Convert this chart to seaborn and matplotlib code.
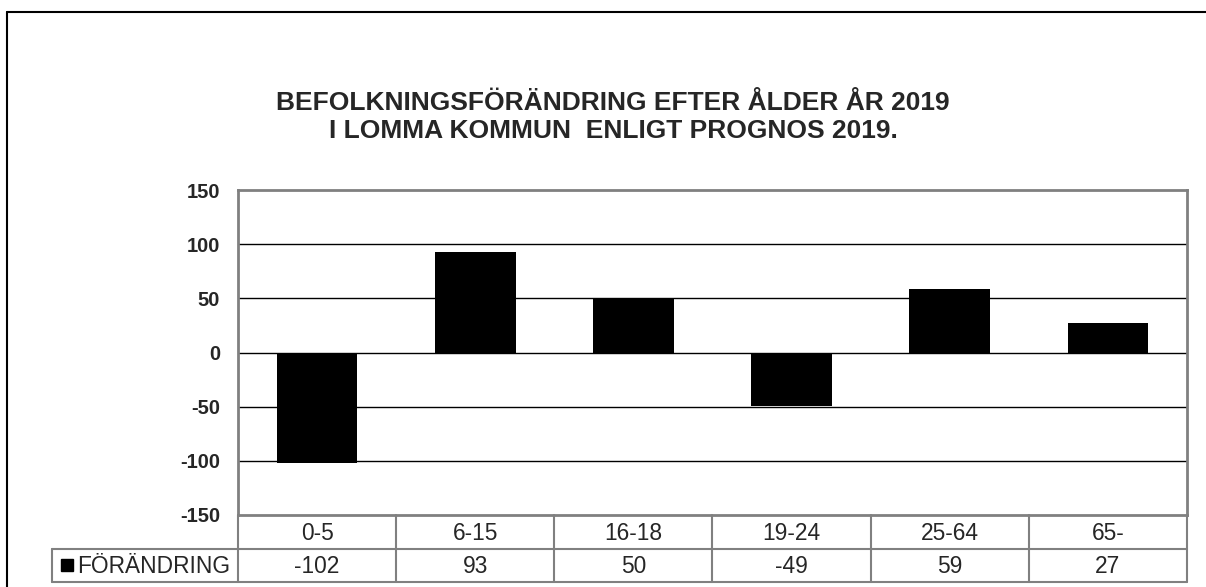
import matplotlib
matplotlib.use("Agg")
import matplotlib.pyplot as plt
import seaborn as sns
import pandas as pd
from matplotlib.lines import Line2D
from matplotlib.patches import Rectangle

# data
age_groups = ["0-5", "6-15", "16-18", "19-24", "25-64", "65-"]
change = [-102, 93, 50, -49, 59, 27]
series_name = "FÖRÄNDRING"
title = "BEFOLKNINGSFÖRÄNDRING EFTER ÅLDER ÅR 2019\nI LOMMA KOMMUN  ENLIGT PROGNOS 2019."
yticks = [-150, -100, -50, 0, 50, 100, 150]

sns.set_style("white")
plt.rcParams["font.family"] = ["Liberation Sans", "DejaVu Sans"]

W, H = 1206, 587
fig = plt.figure(figsize=(W / 100, H / 100), dpi=100)


def px(x, y):
    # pixel position (from top-left) -> figure fraction
    return x / W, 1 - y / H


# plot area in pixels
left, top, right, bottom = 238, 190, 1187, 515
ax = fig.add_axes([left / W, 1 - bottom / H, (right - left) / W, (bottom - top) / H])

df = pd.DataFrame({"age": age_groups, "change": change})
sns.barplot(data=df, x="age", y="change", color="black", width=0.51,
            saturation=1, linewidth=0, ax=ax, zorder=3)
ax.set_ylim(-150, 150)
ax.set_xlim(-0.5, len(age_groups) - 0.5)
ax.set_yticks(yticks)
ax.set_yticklabels([str(t) for t in yticks], fontsize=14.5, fontweight="bold")
ax.tick_params(axis="y", length=0, pad=13)
ax.set_xticks([])
ax.set_xlabel("")
ax.set_ylabel("")
for t in yticks[1:-1]:
    ax.axhline(t, color="black", lw=1, zorder=1)
for s in ax.spines.values():
    s.set_color("#808080")
    s.set_linewidth(2)

# data table below the plot
tbl_top, tbl_mid, tbl_bot, tbl_left = 515, 549, 582, 52
gray = "#808080"
cell_w = (right - left) / len(age_groups)
fs_tbl = 16.4


def hline(x0, x1, y):
    a, b = px(x0, y)
    c, d = px(x1, y)
    fig.add_artist(Line2D([a, c], [b, d], color=gray, lw=1.5))


def vline(x, y0, y1):
    a, b = px(x, y0)
    c, d = px(x, y1)
    fig.add_artist(Line2D([a, c], [b, d], color=gray, lw=1.5))


hline(left, right, tbl_mid)
hline(tbl_left, right, tbl_bot)
hline(tbl_left, left, tbl_mid)
vline(tbl_left, tbl_mid, tbl_bot)
for i in range(len(age_groups) + 1):
    vline(left + i * cell_w, tbl_top, tbl_bot)

for i, (lab, val) in enumerate(zip(age_groups, change)):
    cx = left + (i + 0.5) * cell_w
    fig.text(*px(cx, (tbl_top + tbl_mid) / 2 + 1), lab, ha="center", va="center", fontsize=fs_tbl)
    fig.text(*px(cx, (tbl_mid + tbl_bot) / 2 + 1), str(val), ha="center", va="center", fontsize=fs_tbl)

# legend key
kx, ky = px(61, 571)
fig.add_artist(Rectangle((kx, ky), 12 / W, 12 / H, color="black", transform=fig.transFigure))
fig.text(*px(77, (tbl_mid + tbl_bot) / 2 + 1), series_name, ha="left", va="center", fontsize=fs_tbl)

# title
fig.text(*px(613, 117), title, ha="center", va="center", fontsize=19,
         fontweight="bold", linespacing=1.25)

# outer chart border (runs off the right/bottom of the image)
fig.add_artist(Line2D([7 / W, 1.0], [1 - 12 / H] * 2, color="black", lw=1.5))
fig.add_artist(Line2D([7 / W] * 2, [0.0, 1 - 12 / H], color="black", lw=1.5))

fig.savefig("out.png", dpi=100)
